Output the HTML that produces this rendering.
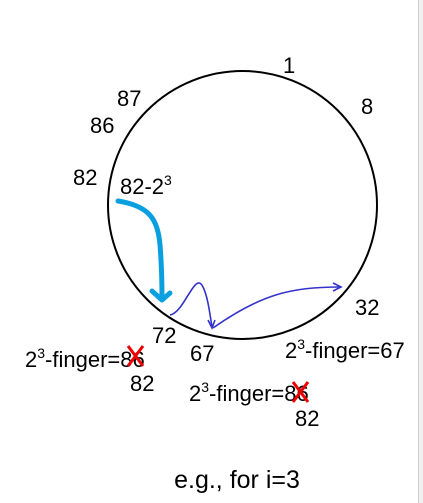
<!DOCTYPE html>
<html><head><meta charset="utf-8"><style>
html,body{margin:0;padding:0;background:#fff;}
#c{position:relative;width:423px;height:503px;overflow:hidden;font-family:"Liberation Sans",Arial,sans-serif;}
svg text{font-family:"Liberation Sans",Arial,sans-serif;fill:#000;}
</style></head><body>
<div id="c">
<svg width="423" height="503" viewBox="0 0 423 503">
<rect x="418" y="0" width="5" height="503" fill="#f0f0f0"/>
<line x1="418.5" y1="0" x2="418.5" y2="503" stroke="#d0d0d0"/>
<ellipse cx="242.5" cy="205" rx="134.5" ry="134" fill="none" stroke="#000" stroke-width="2"/>
<g font-size="22">
<text x="283" y="73">1</text>
<text x="361" y="114">8</text>
<text x="117" y="106">87</text>
<text x="90" y="133">86</text>
<text x="73" y="185">82</text>
<text x="120" y="194">82-2<tspan font-size="14" dy="-9">3</tspan></text>
<text x="152" y="343">72</text>
<text x="190" y="361">67</text>
<text x="355" y="315">32</text>
<text x="25" y="367">2<tspan font-size="14" dy="-9">3</tspan><tspan dy="9">-finger=86</tspan></text>
<text x="130" y="391">82</text>
<text x="285" y="358">2<tspan font-size="14" dy="-9">3</tspan><tspan dy="9">-finger=67</tspan></text>
<text x="189" y="401">2<tspan font-size="14" dy="-9">3</tspan><tspan dy="9">-finger=86</tspan></text>
<text x="295" y="426">82</text>
</g>
<g stroke="#e00" stroke-width="3">
<line x1="128" y1="346" x2="143" y2="366"/><line x1="143" y1="346" x2="128" y2="366"/>
<line x1="293" y1="382" x2="308" y2="402"/><line x1="308" y1="382" x2="293" y2="402"/>
</g>
<g fill="none" stroke="#0aa0e0" stroke-width="5" stroke-linecap="round" stroke-linejoin="round">
<path d="M118 201 C150 206 158 220 160 245 C162 270 162 285 162 298"/>
<path d="M152 291 L162 300 L170 293"/>
</g>
<g fill="none" stroke="#3333cc" stroke-width="1.6">
<path d="M170 315 C185 312 195 270 203 287 C208 297 210 315 212 327"/>
<path d="M208 320 L212 328 L215 320"/>
<path d="M213 328 C260 295 290 287 340 287"/>
<path d="M333 283 L341 287 L333 291"/>
</g>
<text x="237" y="488" font-size="25" text-anchor="middle">e.g., for i=3</text>
</svg>
</div>
</body></html>
